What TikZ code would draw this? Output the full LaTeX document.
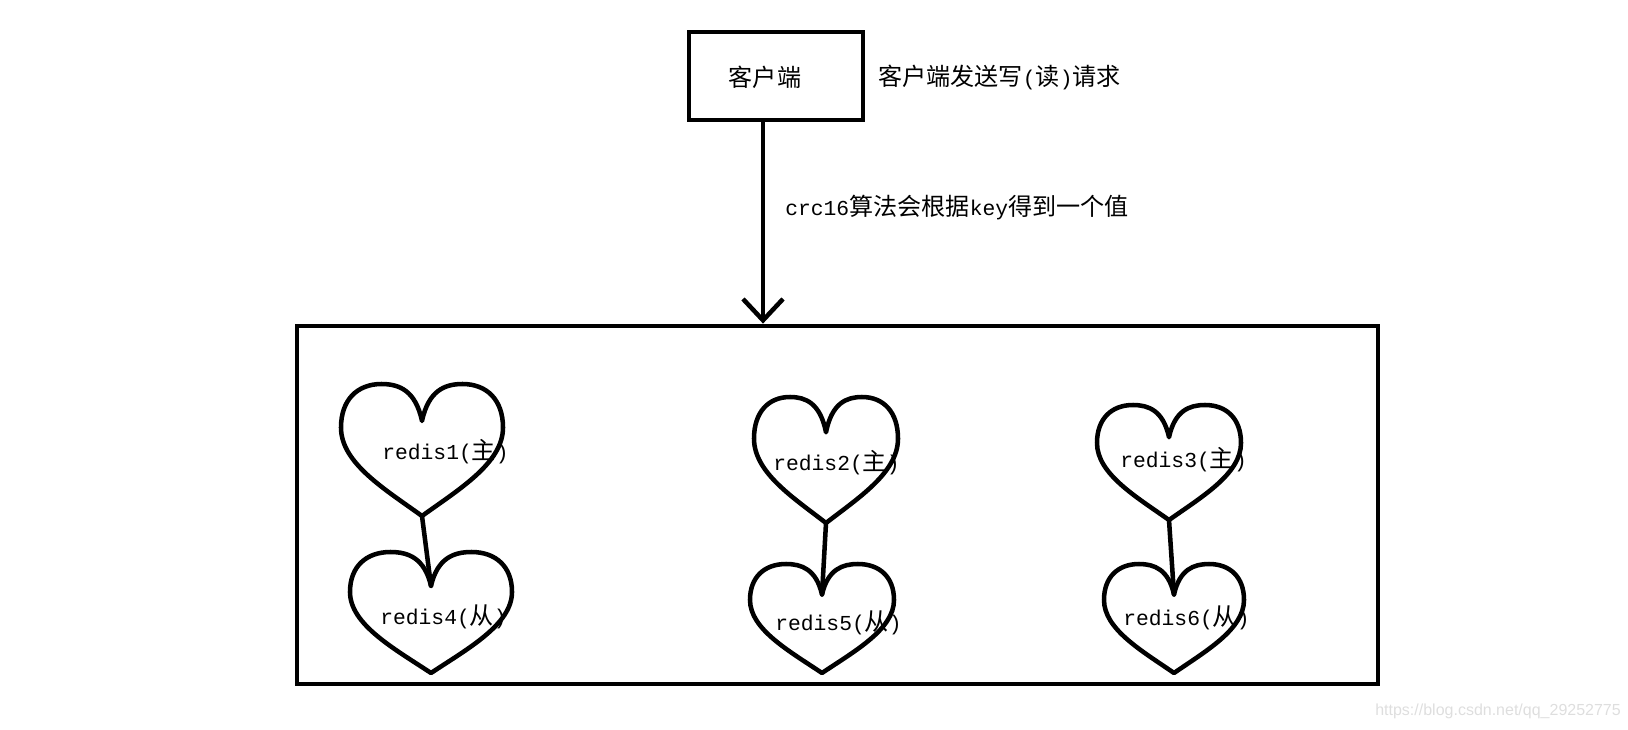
\documentclass[tikz,border=0pt]{standalone}
\usepackage{fontspec}
\setmainfont{Liberation Mono}
\newfontfamily\cjk{Noto Sans CJK SC}[Scale=1.13]
\newfontfamily\marksans{Liberation Sans}
\usepackage{tikz}
\usetikzlibrary{positioning, arrows.meta}
\newcommand{\zh}[1]{{\cjk #1}}

\begin{document}
\begin{tikzpicture}[x=0.75pt, y=-0.75pt,
  every node/.style={inner sep=0pt, font=\fontsize{16}{19}\selectfont, text=black},
  boxline/.style={draw=black, line width=3.6pt},
  clientbox/.style={boxline, minimum width=174*0.75pt, minimum height=88*0.75pt},
  clusterbox/.style={boxline, minimum width=1081*0.75pt, minimum height=358*0.75pt},
  link/.style={line width=3.4pt, line cap=round},
  flow/.style={line width=3.4pt, -{Straight Barb[length=16pt, width=30pt]}},
  redis/.style={anchor=west},
  pics/heart/.style 2 args={code={
    \begin{scope}[xscale=#1, yscale=#2]
      \draw[line width=3.4pt, line join=round]
        (0,0.28) .. controls (-0.08,0.05) and (-0.28,0) .. (-0.5,0)
        .. controls (-0.8,0) and (-1,0.12) .. (-1,0.33)
        .. controls (-1,0.6) and (-0.45,0.8) .. (0,1)
        .. controls (0.45,0.8) and (1,0.6) .. (1,0.33)
        .. controls (1,0.12) and (0.8,0) .. (0.5,0)
        .. controls (0.28,0) and (0.08,0.05) .. (0,0.28) -- cycle;
      \coordinate (-tip) at (0,1);
      \coordinate (-notch) at (0,0.28);
    \end{scope}
  }}
]
\useasboundingbox (0,0) rectangle (1628,729);

% client and request
\node[clientbox] (client) at (776,76) {};
\node (clienttext) at (765,77) {\zh{客户端}};
\node[anchor=west] (request) at (878,77) {\zh{客户端发送写}(\zh{读})\zh{请求}};

% cluster
\node[clusterbox] (cluster) at (837.5,505) {};
\coordinate (flowstart) at ([xshift=-13*0.75pt]client.south);
\coordinate (flowend) at (flowstart |- cluster.north);
\draw[flow] (flowstart) -- (flowend);
\node[anchor=west] (hash) at (785,208) {crc16\zh{算法会根据}key\zh{得到一个值}};

% hearts: masters on top, slaves below
\foreach \i/\cx/\ty/\hw/\hh in {1/422/384/81/132, 2/826/397/72/126, 3/1169/405/72/115,
                                4/431/552/81/121, 5/822/564/72/109, 6/1174/564/70/109}
  \pic (h\i) at (\cx,\ty) {heart={\hw}{\hh}};

\foreach \i/\x/\y/\role in {1/382/452/主, 2/773/463/主, 3/1120/460/主,
                            4/380/617/从, 5/775/623/从, 6/1123/618/从}
  \node[redis] (r\i) at (\x,\y) {redis\i(\zh{\role})};

\foreach \a/\b in {1/4, 2/5, 3/6}
  \draw[link] (h\a-tip) -- (h\b-notch);

\node[anchor=west, font=\marksans\fontsize{12}{14}\selectfont, text=black!13] (mark)
  at (1375,711) {https://blog.csdn.net/qq\_29252775};
\end{tikzpicture}
\end{document}
